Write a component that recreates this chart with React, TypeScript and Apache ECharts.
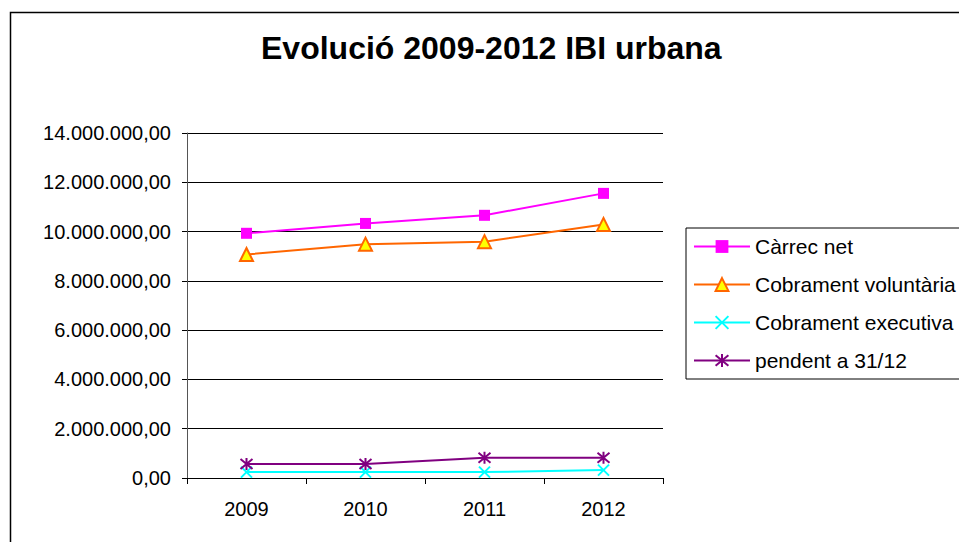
import React, { useEffect, useRef } from "react";
import * as echarts from "echarts";

const years = ["2009", "2010", "2011", "2012"];
const carrecNet = [9930000, 10330000, 10660000, 11550000];
const cobramentVoluntaria = [9070000, 9490000, 9590000, 10290000];
const cobramentExecutiva = [240000, 240000, 240000, 320000];
const pendent = [570000, 570000, 820000, 820000];

const FONT = "Arial, 'Liberation Sans', sans-serif";

const xSymbol = "path://M0,0L10,10M10,0L0,10";
const starSymbol = "path://M0,0L10,10M10,0L0,10M5,-1L5,11";

function fmt(v: number): string {
  const s = Math.round(v).toString().replace(/\B(?=(\d{3})+(?!\d))/g, ".");
  return s + ",00";
}

export default function App() {
  const ref = useRef<HTMLDivElement>(null);
  useEffect(() => {
    if (!ref.current) return;
    const chart = echarts.init(ref.current, null, { renderer: "svg" });
    chart.setOption({
      animation: false,
      backgroundColor: "#ffffff",
      textStyle: { fontFamily: FONT },
      title: {
        text: "Evolució 2009-2012 IBI urbana",
        left: 261,
        top: 32,
        padding: 0,
        textStyle: { fontFamily: FONT, fontSize: 32, fontWeight: "bold", color: "#000" },
      },
      graphic: [
        {
          type: "rect",
          shape: { x: 10.5, y: 12.5, width: 1000, height: 600 },
          style: { fill: "none", stroke: "#000", lineWidth: 1.5 },
          silent: true,
          z: -10,
        },
      ],
      legend: {
        orient: "vertical",
        left: 686,
        top: 228,
        padding: [8, 20, 8, 7],
        itemGap: 17,
        itemWidth: 56,
        itemHeight: 16,
        borderColor: "#000",
        borderWidth: 1,
        textStyle: { fontFamily: FONT, fontSize: 21, color: "#000", padding: [0, 0, 0, 0] },
        data: ["Càrrec net", "Cobrament voluntària", "Cobrament executiva", "pendent a 31/12"],
      },
      grid: { left: 187, top: 133, width: 476, height: 345, containLabel: false },
      xAxis: {
        type: "category",
        data: years,
        boundaryGap: true,
        axisLine: { lineStyle: { color: "#000", width: 1 } },
        axisTick: { show: true, length: 6, alignWithLabel: false, lineStyle: { color: "#000" } },
        axisLabel: { fontFamily: FONT, fontSize: 20, color: "#000", margin: 21 },
        splitLine: { show: false },
      },
      yAxis: {
        type: "value",
        min: 0,
        max: 14000000,
        interval: 2000000,
        axisLine: { show: true, lineStyle: { color: "#555", width: 1 } },
        axisTick: { show: true, length: 5, lineStyle: { color: "#000" } },
        axisLabel: { fontFamily: FONT, fontSize: 20, color: "#000", margin: 16, formatter: (v: number) => fmt(v) },
        splitLine: { show: true, lineStyle: { color: "#000", width: 1 } },
      },
      series: [
        {
          name: "Càrrec net",
          type: "line",
          data: carrecNet,
          symbol: "rect",
          symbolSize: 11,
          lineStyle: { color: "#ff00ff", width: 2 },
          itemStyle: { color: "#ff00ff" },
        },
        {
          name: "Cobrament voluntària",
          type: "line",
          data: cobramentVoluntaria,
          symbol: "triangle",
          symbolSize: 13,
          lineStyle: { color: "#ff6600", width: 2 },
          itemStyle: { color: "#ffff00", borderColor: "#ff6600", borderWidth: 2 },
        },
        {
          name: "Cobrament executiva",
          type: "line",
          data: cobramentExecutiva,
          symbol: xSymbol,
          symbolSize: 11,
          lineStyle: { color: "#00ffff", width: 2 },
          itemStyle: { color: "#00ffff", borderColor: "#00ffff", borderWidth: 2 },
        },
        {
          name: "pendent a 31/12",
          type: "line",
          data: pendent,
          symbol: starSymbol,
          symbolSize: 12,
          lineStyle: { color: "#800080", width: 2 },
          itemStyle: { color: "#800080", borderColor: "#800080", borderWidth: 2 },
        },
      ],
    });
    return () => chart.dispose();
  }, []);
  return (
    <div
      ref={ref}
      style={{ position: "absolute", left: 0, top: 0, width: 959, height: 542 }}
    />
  );
}
